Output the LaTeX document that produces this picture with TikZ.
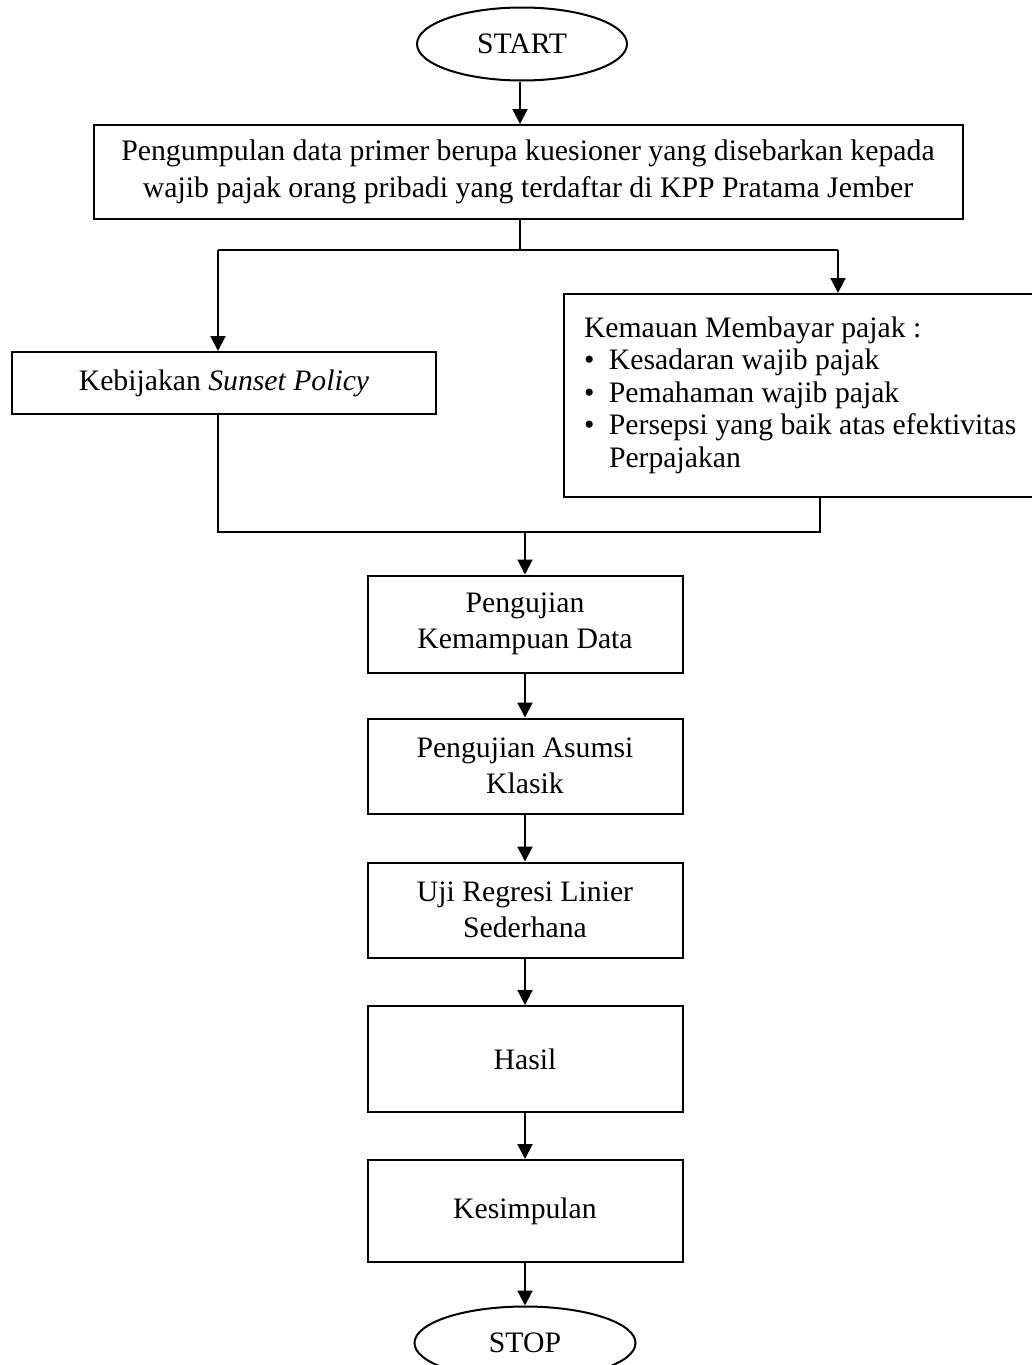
\documentclass[tikz,border=0pt]{standalone}
\usepackage{fontspec}
\setmainfont{Liberation Serif}
\usetikzlibrary{arrows.meta,shapes.geometric}

\newcommand{\itembul}{\makebox[25pt][l]{\textbullet}}

\begin{document}
\begin{tikzpicture}[x=1pt,y=-1pt,line width=2pt,
    >={Triangle[width=15pt,length=15pt]},
    every node/.style={font=\fontsize{29.7}{36}\selectfont},
    box/.style={draw,rectangle,align=center,inner sep=0pt},
    oval/.style={draw,ellipse,inner sep=0pt,minimum width=210pt,minimum height=73pt},
    midbox/.style={box,minimum width=315pt}]
        \useasboundingbox (0,0) rectangle (1032,1365);
        \node[oval] (start) at (522,44) {START};
        \node[box,minimum width=869pt,minimum height=94pt,font=\fontsize{29.8}{37}\selectfont] (collect) at (528,172)
            {Pengumpulan data primer berupa kuesioner yang disebarkan kepada\\wajib pajak orang pribadi yang terdaftar di KPP Pratama Jember};
        \node[box,minimum width=424pt,minimum height=62pt] (policy) at (224,383) {Kebijakan \textit{Sunset Policy}};
        \node[box,anchor=north west,align=left,text width=442pt,inner xsep=20pt,minimum height=203pt,
            font=\fontsize{29.7}{32.5}\selectfont] (will) at (563,293)
            {\spaceskip=0pt\xspaceskip=0pt
             \begin{tabular}{@{}l@{}}
             Kemauan Membayar pajak :\\
             \itembul Kesadaran wajib pajak\\
             \itembul Pemahaman wajib pajak\\
             \itembul Persepsi yang baik atas efektivitas\\
             \hspace{25pt}Perpajakan
             \end{tabular}};
        \node[midbox,minimum height=97pt] (test) at (525,624) {Pengujian\\Kemampuan Data};
        \node[midbox,minimum height=95pt] (assume) at (525,766) {Pengujian Asumsi\\Klasik};
        \node[midbox,minimum height=95pt] (regress) at (525,910) {Uji Regresi Linier\\Sederhana};
        \node[midbox,minimum height=106pt] (result) at (525,1059) {Hasil};
        \node[midbox,minimum height=102pt] (concl) at (525,1211) {Kesimpulan};
        \node[oval,minimum width=221pt] (stop) at (525,1343) {STOP};
        % cabang atas
        \coordinate (split) at (520,250);
        \coordinate (splitL) at (218,250);
        \coordinate (splitR) at (838,250);
        % gabungan bawah
        \coordinate (mergeL) at (218,532);
        \coordinate (mergeR) at (820,532);
        \coordinate (merge) at (525,532);
        \draw[->] (start.south -| split) -- (collect.north -| split);
        \draw (collect.south -| split) -- (split);
        \draw (splitL) -- (splitR);
        \draw[->] (splitL) -- (policy.north -| splitL);
        \draw[->] (splitR) -- (will.north -| splitR);
        \draw (policy.south -| mergeL) -- (mergeL) -- (mergeR) -- (will.south -| mergeR);
        \draw[->] (merge) -- (test.north -| merge);
        \draw[->] (test) -- (assume);
        \draw[->] (assume) -- (regress);
        \draw[->] (regress) -- (result);
        \draw[->] (result) -- (concl);
        \draw[->] (concl) -- (stop);
    \end{tikzpicture}
\end{document}
